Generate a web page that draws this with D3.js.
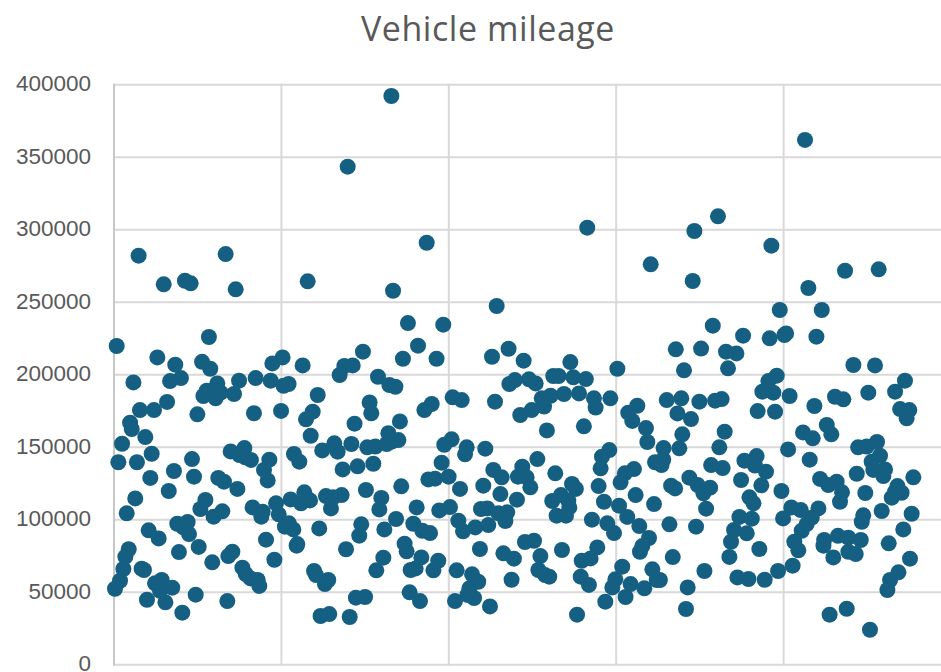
<!DOCTYPE html>
<html><head><meta charset="utf-8">
<style>html,body{margin:0;padding:0;background:#fff}svg{display:block}</style>
<script src="https://cdn.jsdelivr.net/npm/d3@7"></script></head>
<body><svg id="c" width="941" height="672"></svg>
<script>
const title = "Vehicle mileage";
const yTicks = [0,50000,100000,150000,200000,250000,300000,350000,400000];
const xTicks = [0,100,200,300,400,500];
const vehicleIndex = [
1.6,14.7,29.7,42.4,45.8,66.7,72.7,115.7,139.6,165.7,166.7,56.7,25.9,36.6,52.6,57.5,94.6,100.7,112.7,137.6,142.6,148.7,134.8,157.7,
11.6,33.5,40.0,74.7,84.6,93.6,101.3,104.3,121.7,61.7,55.4,53.4,60.3,60.7,63.7,71.7,31.7,15.5,23.9,49.8,83.6,99.8,118.7,114.7,152.7,153.7,143.7,9.6,10.6,18.7,4.8,22.5,2.6,13.7,46.6,35.8,47.8,21.7,32.7,12.7,7.6,
69.7,77.9,74.9,78.4,81.8,92.8,89.6,91.8,62.3,65.7,73.7,107.5,110.7,117.5,124.4,131.6,133.6,141.8,151.3,156.1,162.9,163.9,136.6,145.5,154.9,54.6,51.6,64.7,59.5,82.8,88.8,88.0,96.8,98.4,105.5,111.7,113.7,115.1,117.1,126.6,129.6,131.0,136.0,150.5,159.7,158.5,
37.8,44.0,41.4,44.8,20.7,26.7,50.6,38.8,8.8,6.8,5.6,3.6,0.6,16.5,17.9,28.5,24.5,27.5,34.8,19.7,30.7,40.8,48.8,67.7,58.7,68.3,70.7,76.7,78.7,81.6,85.8,86.8,90.8,95.8,102.1,104.5,107.1,122.6,109.1,109.5,119.5,120.7,128.0,126.0,138.6,147.7,146.5,161.5,160.9,156.7,144.5,150.0,123.4,128.6,140.8,
186.8,282.7,320.6,228.6,175.6,196.7,181.6,172.6,192.7,225.8,235.7,244.7,272.6,300.7,
164.5,168.1,236.2,239.5,247.9,251.9,262.4,265.6,274.4,281.9,202.3,207.7,227.6,189.8,185.4,255.5,260.8,268.8,277.8,286.7,287.7,296.5,256.9,249.5,242.7,312.6,307.2,309.6,258.6,280.7,317.8,318.6,170.8,169.9,165.9,201.7,197.3,210.7,209.7,221.8,252.9,195.7,226.6,231.6,243.9,241.3,246.5,248.7,263.6,273.6,275.9,295.9,291.5,290.7,289.5,328.3,323.2,328.1,327.1,310.6,305.2,302.6,311.6,322.6,171.6,187.8,191.8,199.9,206.7,220.6,230.8,240.7,180.8,168.5,194.3,200.7,219.2,223.0,229.6,234.9,233.8,205.7,208.5,215.8,223.6,178.8,184.2,188.8,173.6,174.8,183.6,180.2,177.2,193.7,190.8,218.6,204.7,213.9,217.6,212.3,211.1,215.1,203.7,224.6,176.6,182.8,232.6,238.9,237.5,245.5,250.9,254.7,253.5,257.5,260.0,267.6,288.7,284.7,279.4,278.8,283.7,261.8,267.0,271.4,272.0,264.4,270.0,292.7,301.7,306.6,285.5,294.7,298.7,313.8,319.6,315.6,314.2,303.6,299.5,297.7,308.6,305.6,316.8,321.6,324.2,326.1,293.5,276.6,
412.8,360.8,346.7,392.7,345.7,436.7,456.8,414.8,397.7,422.8,357.7,375.8,391.7,401.5,400.5,419.6,335.6,350.7,365.6,371.8,340.5,366.8,441.7,454.6,472.5,
395.9,390.9,387.3,393.9,389.9,403.6,384.5,394.9,418.4,430.7,435.7,450.6,466.6,469.6,475.1,473.5,330.2,338.9,349.7,359.1,363.0,336.6,344.7,339.5,364.8,361.6,337.7,425.8,428.5,411.6,417.4,402.7,415.6,444.5,449.6,455.8,457.6,452.6,453.6,460.6,459.6,443.7,477.5,468.0,470.5,464.6,466.6,448.8,458.6,476.5,447.6,446.7,471.5,462.8,475.5,468.6,463.6,462.0,446.1,438.7,432.5,424.2,423.8,429.7,438.7,443.1,421.8,426.7,431.7,434.9,433.7,398.7,404.6,410.2,399.7,420.8,416.8,413.8,410.8,406.4,408.8,405.4,396.7,388.7,379.0,372.4,367.6,385.5,368.6,370.4,373.6,381.0,378.0,379.6,382.0,386.7,389.5,374.6,383.9,376.6,382.9,356.7,363.6,343.7,332.8,335.2,348.7,356.1,352.1,353.7,331.8,347.7,333.8,352.7,342.7,341.7,427.5,437.7,451.6
];
const mileage = [
219800,282100,262300,264800,263000,283200,258900,264400,343500,392200,257900,226000,211900,206900,208900,204100,207800,211900,206400,206000,206400,215900,199800,198600,
194700,195600,197700,195900,197700,195900,192400,193600,186000,194000,189000,185300,189000,183700,187600,186700,181200,175600,175600,172700,173400,175000,174500,169200,180900,173400,166200,166900,162500,157000,152400,145500,139600,139600,141800,133600,129700,128800,119800,114700,104400,
147100,149400,144600,143000,141200,141400,134300,127100,128800,126200,121200,145300,140000,157900,147800,152700,146900,152200,149900,150400,152200,159600,134700,136800,138600,113600,107400,105800,102100,108500,105500,102100,111300,103700,114000,111300,118900,114700,113300,116300,107800,115400,117000,120500,115000,107100,
97200,98400,94700,90100,92700,87100,81200,77700,79600,74500,66000,57900,52400,66200,65300,58400,56100,51000,53100,44800,43000,35900,48300,43900,70600,74900,77900,66900,62500,59500,58400,54300,86200,72400,95200,97500,93300,94000,82100,83200,64600,61800,58400,55600,79600,96800,89000,93300,73800,65100,46200,46700,33600,34900,32900,
291000,301400,276100,247400,235600,234500,220000,211000,211000,212400,217900,209700,208700,204100,
192900,191700,193600,196300,196800,194000,199100,199100,198200,197000,184400,182500,181400,179800,175600,183700,185500,186700,187100,183700,177300,183700,178000,175600,172200,178600,173800,168100,161600,164400,163200,153600,167800,154900,153800,155400,151700,149900,145100,149000,141800,139300,134300,129200,136600,129700,129200,122300,132000,124600,121200,148000,143500,135400,123200,149400,139600,141600,137700,134900,132000,125800,117000,110800,123000,127800,128300,129700,121200,123500,117700,113800,108500,100500,106400,108700,107400,107800,104400,105100,99100,99300,92000,94700,96300,97200,92400,90800,83500,78200,74000,66400,65300,71700,65100,79800,65100,62300,57200,52700,48100,46000,43900,40200,49900,43900,76800,73100,58600,84600,85500,74900,65300,61800,60700,79100,80900,73300,71700,60700,55000,112900,117000,113100,108500,102800,102800,112400,109700,101900,100000,97500,90800,95600,87400,81800,77900,67600,58900,53300,55600,46700,52700,65800,58400,58400,43500,34500,
361900,309200,299100,289000,264600,271700,272700,259800,244600,244600,233800,226900,225100,228500,227400,226200,217500,218000,215900,214700,203000,204400,206700,206400,195900,
199300,195600,188300,187600,189400,185300,174900,174500,178400,184800,183000,187600,188300,176300,175600,169900,182500,183700,181400,182100,183200,173300,169400,158900,160700,149900,149200,165300,158900,160200,156100,148500,141400,149900,150400,153600,144100,140000,134300,134700,130100,131700,129200,123200,118600,115200,119300,118400,106000,104100,103000,98600,93300,83700,73100,63700,58400,51500,86000,87600,88900,86000,82100,74000,77900,76300,128100,123900,126200,118900,112400,119800,108500,106700,100900,107800,101400,97000,92400,84800,78900,68300,64600,58600,59100,60200,74300,79800,84800,92900,101900,100700,90600,115400,111300,123700,133100,127400,143900,140700,137300,137700,135600,129000,123500,121600,123900,122100,118200,107600,96800,95200,74200,64600,53300,38400,34500,38600,24100
];
const points = d3.zip(vehicleIndex, mileage);

const svg = d3.select("#c");
const x = d3.scaleLinear().domain([0,500]).range([114,951]);
const y = d3.scaleLinear().domain([0,400000]).range([664.7,84.7]);

const grid = svg.append("g");
grid.selectAll(".h").data(yTicks).join("line")
  .attr("x1",x(0)).attr("x2",941).attr("y1",d=>y(d)).attr("y2",d=>y(d))
  .attr("stroke","#d9d9d9").attr("stroke-width",2);
grid.selectAll(".v").data(xTicks).join("line")
  .attr("x1",d=>x(d)).attr("x2",d=>x(d)).attr("y1",y(400000)-1).attr("y2",y(0)+1)
  .attr("stroke",d=>d===0?"#c8c8c8":"#d9d9d9").attr("stroke-width",2);

const yAxis = d3.axisLeft(y).tickValues(yTicks).tickFormat(d3.format("d")).tickSize(0).tickPadding(0);
const ga = svg.append("g").attr("transform","translate(91,0)").call(yAxis);
ga.select(".domain").remove();
ga.selectAll("text").attr("font-family","'Liberation Sans', Arial, sans-serif").attr("font-size",22.5).attr("fill","#595959").attr("dy","0.27em");

svg.append("g").selectAll("circle").data(points).join("circle")
  .attr("cx",d=>x(d[0])).attr("cy",d=>y(d[1])).attr("r",8)
  .attr("fill","#156082");

svg.append("text").attr("x",488).attr("y",40.5).attr("text-anchor","middle")
  .attr("font-family","'Open Sans', sans-serif").attr("font-size",34).attr("letter-spacing",0.55).attr("fill","#595959").text(title);
</script></body></html>
